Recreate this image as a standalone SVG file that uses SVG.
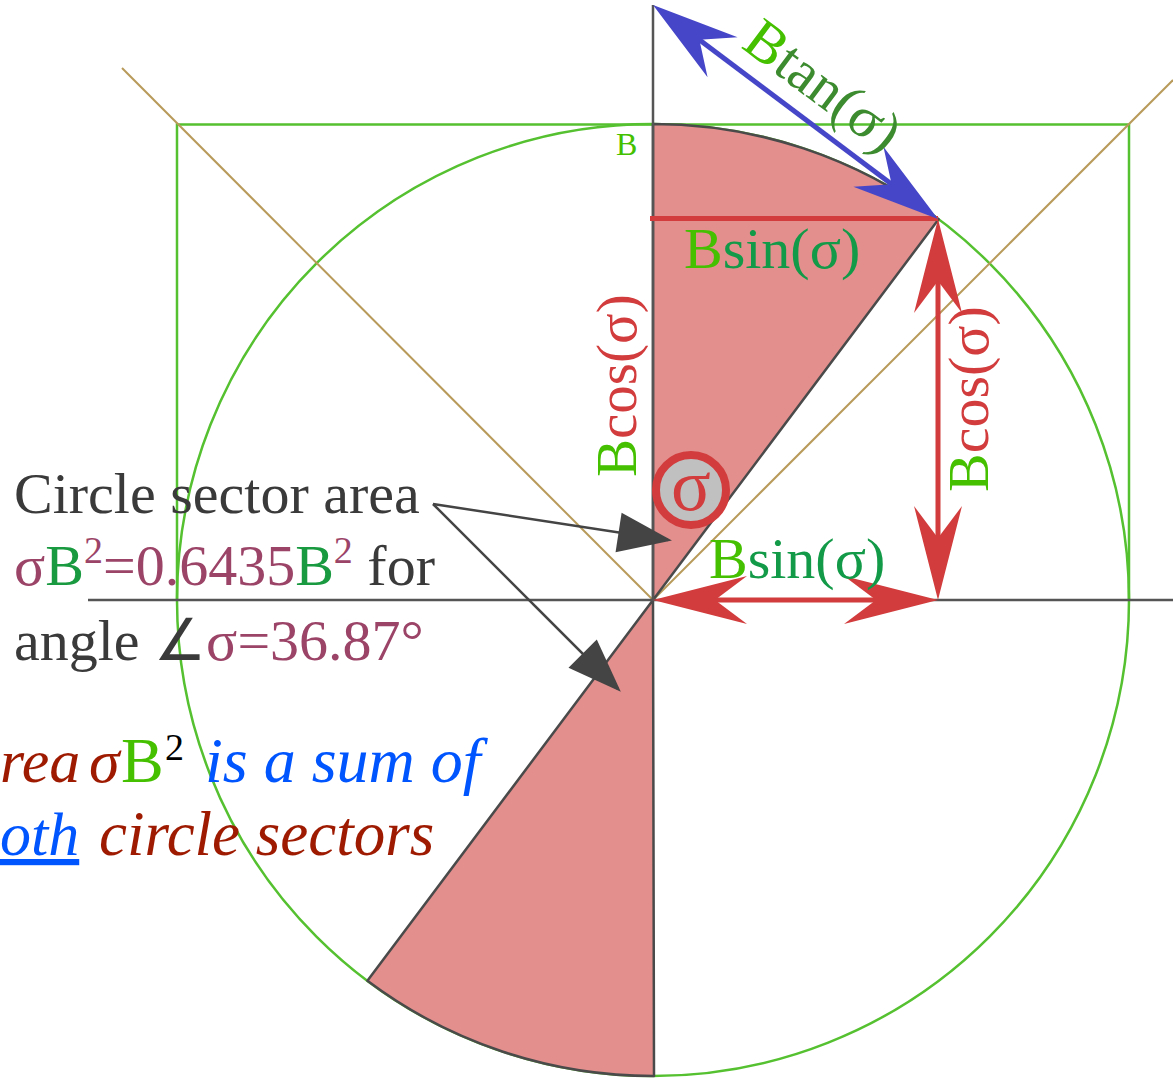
<svg xmlns="http://www.w3.org/2000/svg" width="1173" height="1081" viewBox="0 0 1173 1081">
<style>
.serif{font-family:"Liberation Serif","Times New Roman",serif}
.green{fill:#44c000}
.dgreen{fill:#139a48}
.red{fill:#d23c3c}
.maroon{fill:#9c4468}
.gray{fill:#3a3a3a}
.guide{fill:none;stroke:#55c030;stroke-width:2.5}
.diag{fill:none;stroke:#b89a5a;stroke-width:2}
.axis{fill:none;stroke:#555;stroke-width:2.5}
.sector{fill:#e28f8d;stroke:#4a4a4a;stroke-width:2.5;stroke-linejoin:round}
.redline{stroke:#d23c3c;stroke-width:5;fill:none}
.blueline{stroke:#4646c8;stroke-width:5;fill:none}
.pointer{stroke:#444;stroke-width:2.5;fill:none}
</style>
<defs>
<marker id="redHead" markerUnits="userSpaceOnUse" viewBox="-70 -30 110 60" markerWidth="110" markerHeight="60" refX="0" refY="0" orient="auto-start-reverse">
<path d="M30,0 L-64,-24 L-32,0 L-64,24 Z" fill="#d23c3c"/>
</marker>
<marker id="blueHead" markerUnits="userSpaceOnUse" viewBox="-70 -30 110 60" markerWidth="110" markerHeight="60" refX="0" refY="0" orient="auto-start-reverse">
<path d="M30,0 L-57,-25 L-28,0 L-57,25 Z" fill="#4646c8"/>
</marker>
<marker id="blackHead" markerUnits="userSpaceOnUse" viewBox="-60 -25 70 50" markerWidth="70" markerHeight="50" refX="0" refY="0" orient="auto">
<path d="M4,0 L-50,-20 L-50,20 Z" fill="#444"/>
</marker>
</defs>

<g id="construction">
<polyline class="guide" points="177,600 177,124.5 1129,124.5 1129,600"/>
<circle class="guide" cx="653" cy="600" r="476"/>
<line class="diag" x1="122" y1="68" x2="653" y2="600"/>
<line class="diag" x1="653" y1="600" x2="1173" y2="80"/>
</g>

<g id="sectors">
<path class="sector" d="M653,600 L653,124 A476,476 0 0,1 938.6,219.2 Z"/>
<path class="sector" d="M653,600 L367.4,980.8 A476,476 0 0,0 654,1076 Z"/>
</g>

<g id="axes">
<line class="axis" x1="88" y1="600" x2="1173" y2="600"/>
<line class="axis" x1="653" y1="5" x2="653" y2="600"/>
</g>

<g id="connectors">
<line class="redline" x1="650" y1="218.5" x2="938" y2="218.5"/>
<line class="redline" x1="938" y1="249" x2="938" y2="570" marker-start="url(#redHead)" marker-end="url(#redHead)"/>
<line class="redline" x1="683" y1="600" x2="908" y2="600" marker-start="url(#redHead)" marker-end="url(#redHead)"/>
<line class="blueline" x1="677" y1="23" x2="914" y2="201" marker-start="url(#blueHead)" marker-end="url(#blueHead)"/>
<line class="pointer" x1="433" y1="504" x2="668" y2="540" marker-end="url(#blackHead)"/>
<line class="pointer" x1="433" y1="504" x2="618" y2="689" marker-end="url(#blackHead)"/>
</g>

<g id="angle-mark">
<circle cx="691" cy="490" r="35" fill="#c0c0c0" stroke="#d23c3c" stroke-width="8"/>
<text class="serif red" x="691" y="510" font-size="74" text-anchor="middle">σ</text>
</g>

<g id="labels" class="serif">
<text class="green" x="616" y="155" font-size="32">B</text>
<text x="684" y="268" font-size="58"><tspan class="green">B</tspan><tspan class="dgreen">sin(σ)</tspan></text>
<text x="709" y="578" font-size="58"><tspan class="green">B</tspan><tspan class="dgreen">sin(σ)</tspan></text>
<text transform="translate(740,47) rotate(36.87)" font-size="58"><tspan class="green">B</tspan><tspan fill="#3d8b2f">tan(σ)</tspan></text>
<text transform="translate(636,477) rotate(-90)" font-size="57"><tspan class="green">B</tspan><tspan class="red">cos(σ)</tspan></text>
<text transform="translate(988,492) rotate(-90)" font-size="58"><tspan class="green">B</tspan><tspan class="red">cos(σ)</tspan></text>
</g>

<g id="sector-note" class="serif">
<text class="gray" x="14" y="513" font-size="58">Circle sector area</text>
<text x="14" y="585" font-size="58"><tspan class="maroon">σ</tspan><tspan fill="#1a9a40">B</tspan><tspan class="maroon" font-size="38" dy="-22">2</tspan><tspan class="maroon" dy="22">=0.6435</tspan><tspan fill="#1a9a40">B</tspan><tspan class="maroon" font-size="38" dy="-22">2</tspan><tspan class="gray" dy="22"> for</tspan></text>
<text x="14" y="660" font-size="58"><tspan class="gray">angle ∠</tspan><tspan class="maroon">σ=36.87°</tspan></text>
</g>

<g id="sum-note" class="serif" font-size="62">
<text x="0" y="782" font-style="italic" fill="#9e1a00">rea</text>
<text x="89" y="782" font-style="italic" fill="#9e1a00">σ</text>
<text x="121" y="782" font-size="64" fill="#44c000">B</text>
<text x="165" y="760" font-size="38" fill="#000">2</text>
<text x="205" y="782" font-style="italic" font-size="64" fill="#0055ff">is a sum of</text>
<text x="0" y="855" font-style="italic" fill="#0055ff" text-decoration="underline">oth</text>
<text x="99" y="855" font-style="italic" font-size="63" fill="#9e1a00">circle sectors</text>
</g>
</svg>
